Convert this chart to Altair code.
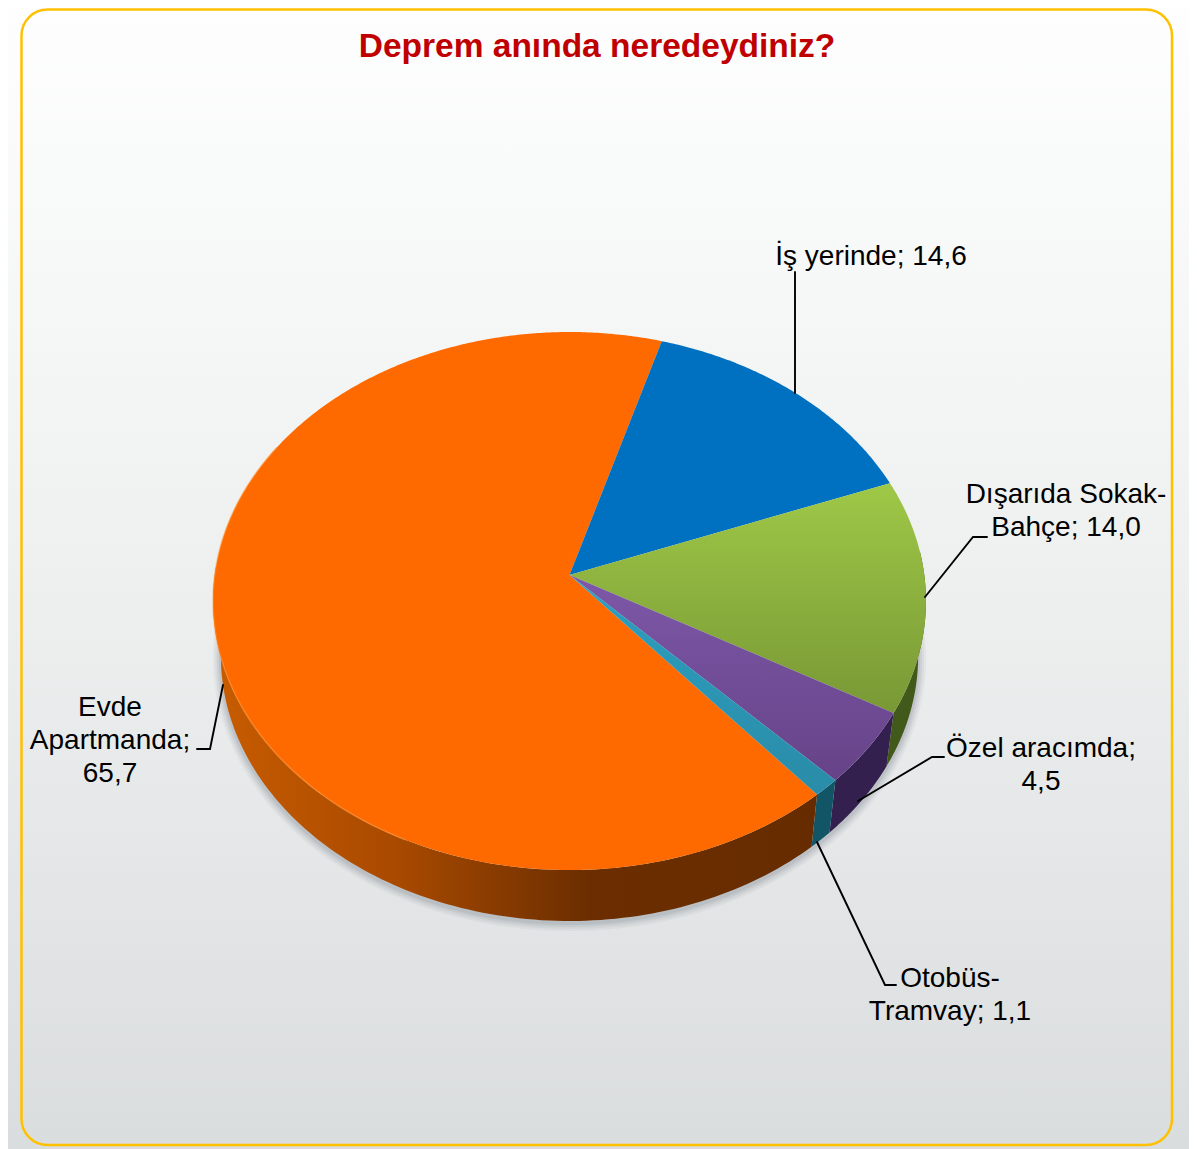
import numpy as np
import pandas as pd
import altair as alt

# Values
categories = ["İş yerinde", "Dışarıda Sokak-Bahçe", "Özel aracımda", "Otobüs-Tramvay", "Evde Apartmanda"]
values = [14.6, 14.0, 4.5, 1.1, 65.7]
start_angle = 16.5

top_fill = [
    ["#0070C0", "#0070C0"],
    ["#9FC847", "#789835"],
    ["#7D58A8", "#664388"],
    ["#2C9FC0", "#2A8CA8"],
    ["#FF6A00", "#FF6A00"],
]
wall_fill = ["#004070", "#41591A", "#33204F", "#125566", None]
orange_wall_stops = [(0, "#C85C00"), (0.3, "#A94A00"), (0.62, "#6C2E00"), (1, "#662C00")]

title_lines = [("Deprem anında neredeydiniz?", 597, 47)]
label_lines = [
    ("İş yerinde; 14,6", 871, 257),
    ("Dışarıda Sokak-", 1066, 495),
    ("Bahçe; 14,0", 1066, 528),
    ("Özel aracımda;", 1041, 749),
    ("4,5", 1041, 782),
    ("Otobüs-", 950, 979),
    ("Tramvay; 1,1", 950, 1012),
    ("Evde", 110, 708),
    ("Apartmanda;", 110, 741),
    ("65,7", 110, 774),
]
leaders = [
    [(795, 272), (795, 393)],
    [(925, 597), (973, 537), (987, 537)],
    [(858, 801), (932, 757), (944, 757)],
    [(817, 842), (885, 985), (896, 985)],
    [(197, 749), (210, 749), (223, 685)],
]

W, H = 1189, 1149
xs = alt.X("x:Q", scale=alt.Scale(domain=[8, W], nice=False, zero=False), axis=None)
ys = alt.Y("y:Q", scale=alt.Scale(domain=[H, 8], nice=False, zero=False), axis=None)

P = 0.0967
def project(t_deg, apex_x, apex_y, bx, ay):
    t = np.radians(t_deg)
    X, Y = np.sin(t), np.cos(t)
    d = 1 + P * Y
    return apex_x + bx * X / d, apex_y - ay * Y / d

TOP = (569.5, 575, 354.8, 266.5)
BOT = (569.5, 630.4, 347, 262.5)

def poly_chart(px, py, fill, **kw):
    df = pd.DataFrame({"x": px, "y": py, "i": np.arange(len(px))})
    return alt.Chart(df).mark_line(fill=fill, strokeOpacity=0, **kw).encode(
        x=xs, y=ys, order="i:Q")

def stroke_chart(px, py, color, width, opacity):
    df = pd.DataFrame({"x": px, "y": py, "i": np.arange(len(px))})
    return alt.Chart(df).mark_line(color=color, strokeWidth=width, opacity=opacity,
                                   strokeCap="round").encode(x=xs, y=ys, order="i:Q")

def vgrad(c):
    return alt.LinearGradient(gradient="linear", x1=0, x2=0, y1=0, y2=1,
                              stops=[alt.GradientStop(color=c[0], offset=0),
                                     alt.GradientStop(color=c[1], offset=1)])

layers = []

# page background and frame
bg = pd.DataFrame({"x": [8], "x2": [W], "y": [8], "y2": [H]})
layers.append(alt.Chart(bg).mark_rect(fill=alt.LinearGradient(
    gradient="linear", x1=0, x2=0, y1=0, y2=1,
    stops=[alt.GradientStop(color="#FEFEFE", offset=0),
           alt.GradientStop(color="#EEF0F0", offset=0.5),
           alt.GradientStop(color="#DADDDE", offset=1)])).encode(
    x=xs, x2="x2:Q", y=ys, y2="y2:Q"))
frame = pd.DataFrame({"x": [21.5], "x2": [1172], "y": [9.5], "y2": [1145]})
layers.append(alt.Chart(frame).mark_rect(fill="transparent", stroke="#FFC000", strokeWidth=2.5,
                                         cornerRadius=26).encode(
    x=xs, x2="x2:Q", y=ys, y2="y2:Q"))

# soft shadow under the pie
ts = np.linspace(80, 285, 160)
sx, sy = project(ts, *BOT)
for w, op in [(16, 0.05), (12, 0.06), (8, 0.08), (4, 0.10)]:
    layers.append(stroke_chart(sx, sy + 2, "#4A5568", w, op))

# slices
bounds = start_angle + np.concatenate([[0], np.cumsum(values)]) * 360 / sum(values)

# walls
for k in range(len(values)):
    a, b = bounds[k], bounds[k + 1]
    if k == 4:
        b = 272
    if b <= 85:
        continue
    a = max(a, 85)
    t = np.linspace(a, b, 120)
    tx, ty = project(t, *TOP)
    bx, by = project(t[::-1], *BOT)
    fill = wall_fill[k]
    if fill is None:
        fill = alt.LinearGradient(gradient="linear", x1=0, x2=1, y1=0, y2=0,
                                  stops=[alt.GradientStop(color=c, offset=o) for o, c in orange_wall_stops])
    layers.append(poly_chart(np.r_[tx, bx], np.r_[ty, by], fill))

# top faces
for k in [4, 0, 1, 2, 3]:
    a, b = bounds[k], bounds[k + 1]
    t = np.linspace(a, b, max(int(b - a) * 2, 12))
    tx, ty = project(t, *TOP)
    px = np.r_[TOP[0], tx, TOP[0]]
    py = np.r_[TOP[1], ty, TOP[1]]
    layers.append(poly_chart(px, py, vgrad(top_fill[k])))

# light rim on the orange face
ts = np.linspace(205, 300, 90)
rx, ry = project(ts, *TOP)
layers.append(stroke_chart(rx, ry, "#FF9A3C", 1.6, 0.45))

# leader lines
for seg in leaders:
    arr = np.array(seg, float)
    layers.append(stroke_chart(arr[:, 0], arr[:, 1], "#000000", 1.9, 1))

# text
tdf = pd.DataFrame(title_lines, columns=["t", "x", "y"])
layers.append(alt.Chart(tdf).mark_text(font="Liberation Sans", fontSize=33.5, fontWeight="bold",
                                       color="#C00000", align="center", baseline="middle").encode(
    x=xs, y=ys, text="t:N"))
ldf = pd.DataFrame(label_lines, columns=["t", "x", "y"])
layers.append(alt.Chart(ldf).mark_text(font="Liberation Sans", fontSize=28, color="#000000",
                                       align="center", baseline="middle").encode(
    x=xs, y=ys, text="t:N"))

chart = alt.layer(*layers).properties(width=W - 8, height=H - 8, padding=0, background="#FFFFFF").configure_view(stroke=None)
chart.save("out.html", embed_options={"renderer": "svg", "actions": False})
